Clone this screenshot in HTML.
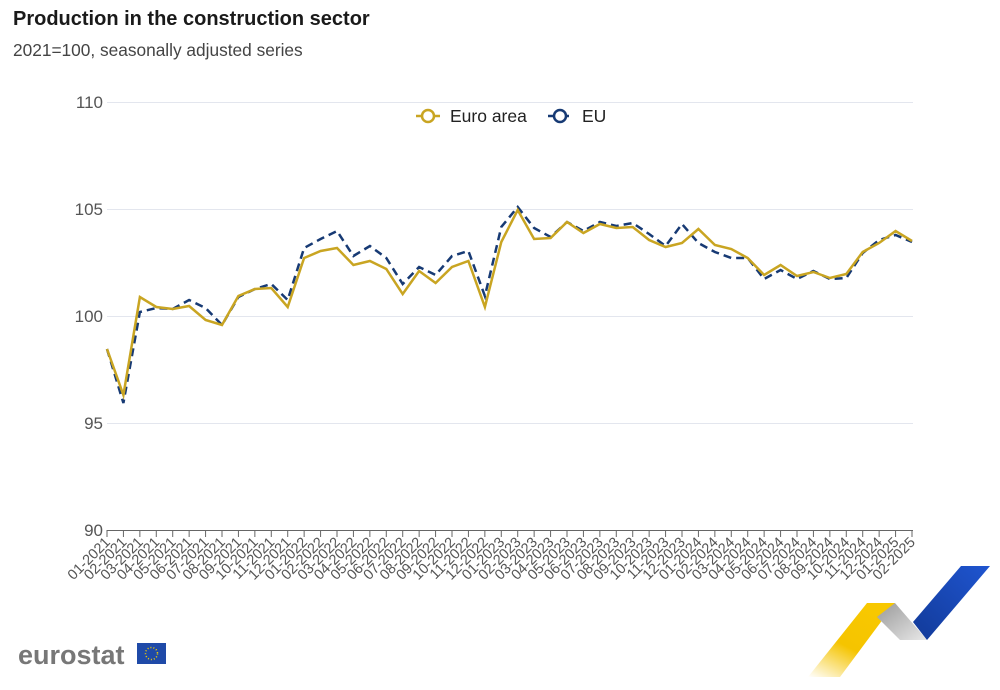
<!DOCTYPE html>
<html><head><meta charset="utf-8"><style>
body{margin:0;background:#fff;font-family:"Liberation Sans",Arial,sans-serif}
svg{display:block}
</style></head><body>
<svg width="1000" height="690" viewBox="0 0 1000 690" xmlns="http://www.w3.org/2000/svg" font-family="Liberation Sans, Arial, sans-serif">
<defs>
<linearGradient id="yg" x1="0" y1="1" x2="0.6" y2="0"><stop offset="0" stop-color="#f5c400" stop-opacity="0"/><stop offset="0.5" stop-color="#f5c400"/><stop offset="1" stop-color="#f8c800"/></linearGradient>
<linearGradient id="gg" x1="0" y1="0" x2="1" y2="1"><stop offset="0" stop-color="#999"/><stop offset="1" stop-color="#e8e8e8"/></linearGradient>
<linearGradient id="bg" x1="1" y1="0" x2="0" y2="1"><stop offset="0" stop-color="#1f55d0"/><stop offset="1" stop-color="#123a98"/></linearGradient>
</defs>
<text x="13" y="25" font-size="20" font-weight="bold" fill="#1a1a1a">Production in the construction sector</text>
<text x="13" y="56" font-size="17.3" fill="#444">2021=100, seasonally adjusted series</text>
<g stroke="#e3e6ee" stroke-width="1">
<line x1="107" x2="913" y1="102.5" y2="102.5"/><line x1="107" x2="913" y1="209.5" y2="209.5"/>
<line x1="107" x2="913" y1="316.5" y2="316.5"/><line x1="107" x2="913" y1="423.5" y2="423.5"/>
</g>
<line x1="107" x2="913" y1="530.5" y2="530.5" stroke="#666" stroke-width="1"/>
<g font-size="17" fill="#555" text-anchor="end">
<text x="103" y="108">110</text><text x="103" y="215">105</text><text x="103" y="322">100</text><text x="103" y="429">95</text><text x="103" y="536">90</text>
</g>
<g id="ticks" stroke="#666"></g>
<g id="labels" font-size="14.5" fill="#555" text-anchor="end"></g>
<polyline id="eu" fill="none" stroke="#173a74" stroke-width="2.5" stroke-dasharray="8,5"/>
<polyline id="ea" fill="none" stroke="#c9a522" stroke-width="2.5"/>
<g font-size="17.5" fill="#222">
<line x1="416" x2="440" y1="116" y2="116" stroke="#c9a522" stroke-width="2.5"/>
<circle cx="428" cy="116" r="6" fill="#fff" stroke="#c9a522" stroke-width="2.5"/>
<text x="450" y="122">Euro area</text>
<line x1="548" x2="572" y1="116" y2="116" stroke="#173a74" stroke-width="2.5" stroke-dasharray="5,3"/>
<circle cx="560" cy="116" r="6" fill="#fff" stroke="#173a74" stroke-width="2.5"/>
<text x="582" y="122">EU</text>
</g>
<text x="18" y="664" font-size="27" font-weight="bold" fill="#777">eurostat</text>
<rect x="137" y="643" width="29" height="21" fill="#1f4aa8"/>
<circle cx="151.5" cy="653.5" r="6" fill="none" stroke="#f5d000" stroke-width="1.5" stroke-dasharray="1,2"/>
<polygon points="867,603 895,603 840,677 808,677" fill="url(#yg)"/>
<polygon points="877,617 895,603 927,640 900,640" fill="url(#gg)"/>
<polygon points="913,622 961,566 990,566 927,640" fill="url(#bg)"/>
</svg>
<script>
var NS="http://www.w3.org/2000/svg";
var ea=[349,395,297,307,309,306,320,325,296,289,288,307,258,251,248,265,261,269,294,271,283,267,261,307,242,210,239,238,222,233,224,228,227,240,247,243,229,245,249,258,275,265,276,272,278,274,252,243,231,241];
var eu=[349,403,312,308,309,300,308,325,297,289,284,300,248,239,231,256,246,258,284,267,275,256,251,296,227,207,228,237,222,231,222,226,223,234,246,224,243,252,258,258,279,270,279,271,279,278,253,240,235,242];
var dx=805/49;
function pts(a){return a.map(function(y,i){return (107+i*dx).toFixed(1)+","+y}).join(" ")}
document.getElementById("ea").setAttribute("points",pts(ea));
document.getElementById("eu").setAttribute("points",pts(eu));
var tg=document.getElementById("ticks"),lg=document.getElementById("labels");
for(var i=0;i<50;i++){var x=107+i*dx;var m=(i%12)+1,y=2021+Math.floor(i/12);
var ln=document.createElementNS(NS,"line");ln.setAttribute("x1",x);ln.setAttribute("x2",x);ln.setAttribute("y1",530);ln.setAttribute("y2",537);tg.appendChild(ln);
var tx=document.createElementNS(NS,"text");tx.setAttribute("transform","translate("+(x+4)+",543) rotate(-45)");tx.textContent=(m<10?"0":"")+m+"-"+y;lg.appendChild(tx);}
</script>
</body></html>
